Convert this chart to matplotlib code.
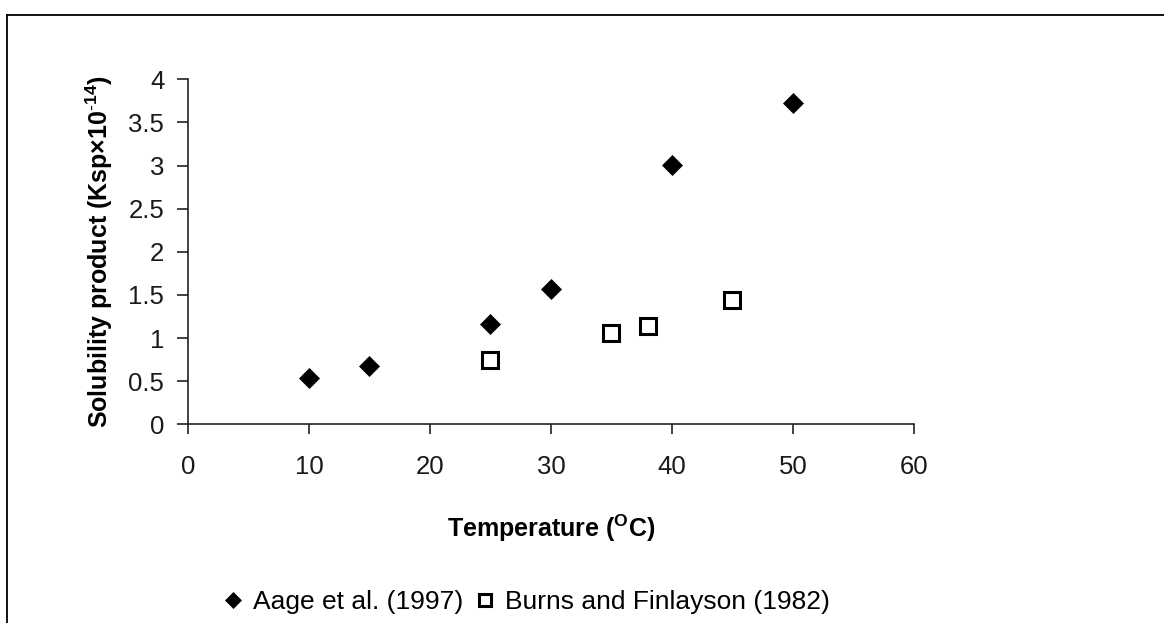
import matplotlib
matplotlib.use('Agg')
from matplotlib import pyplot as plt
from matplotlib.lines import Line2D

plt.rcParams['font.family'] = ['Liberation Sans', 'DejaVu Sans']
plt.rcParams['mathtext.fontset'] = 'custom'
plt.rcParams['mathtext.rm'] = 'Liberation Sans'
plt.rcParams['mathtext.bf'] = 'Liberation Sans:bold'

# data
aage_T = [10, 15, 25, 30, 40, 50]
aage_ksp = [0.54, 0.68, 1.16, 1.57, 3.01, 3.725]
burns_T = [25, 35, 38, 45]
burns_ksp = [0.75, 1.06, 1.14, 1.44]

xticks = [0, 10, 20, 30, 40, 50, 60]
yticks = [0, 0.5, 1, 1.5, 2, 2.5, 3, 3.5, 4]
ytick_labels = ['0', '0.5', '1', '1.5', '2', '2.5', '3', '3.5', '4']

fig = plt.figure(figsize=(11.64, 6.23), dpi=100)
ax = fig.add_axes([0.1615, 0.319, 0.6237, 0.5537])

ax.plot(aage_T, aage_ksp, linestyle='none', marker='D', ms=9.8,
        mfc='black', mec='black', mew=0.5, label='Aage et al. (1997)')
ax.plot(burns_T, burns_ksp, linestyle='none', marker='s', ms=11,
        mfc='white', mec='black', mew=2.2, label='Burns and Finlayson (1982)')

ax.set_xlim(0, 60)
ax.set_ylim(0, 4)
ax.set_xticks(xticks)
ax.set_yticks(yticks)
ax.set_yticklabels(ytick_labels)

for s in ['top', 'right']:
    ax.spines[s].set_visible(False)
for s in ['left', 'bottom']:
    ax.spines[s].set_linewidth(1.2)
    ax.spines[s].set_color('#222222')

ax.tick_params(axis='x', direction='out', length=7.2, width=1.2,
               color='#222222', labelsize=18.5, pad=15, labelcolor='#1a1a1a')
ax.tick_params(axis='y', direction='out', length=8, width=1.2,
               color='#222222', labelsize=18.5, pad=9, labelcolor='#1a1a1a')

ax.set_xlabel(r'Temperature ($^{\mathbf{O}}$C)', fontsize=18, fontweight='bold',
              labelpad=24)
ax.set_ylabel(r'Solubility product (Ksp×10$^{\mathbf{\text{-}14}}$)', fontsize=18,
              fontweight='bold', labelpad=10)

fig.legend(loc='center', bbox_to_anchor=(0.452, 0.034), ncol=2, frameon=False,
           fontsize=19, handlelength=0.8, handletextpad=0.35,
           columnspacing=0.45, markerscale=0.85)

# frame around the chart area (cut off at right and bottom)
fig.add_artist(Line2D([7 / 1164, 1.0], [1 - 15 / 623, 1 - 15 / 623],
                      transform=fig.transFigure, color='black', lw=1.3))
fig.add_artist(Line2D([7 / 1164, 7 / 1164], [0.0, 1 - 15 / 623],
                      transform=fig.transFigure, color='black', lw=1.3))

fig.savefig('out.png', dpi=100)
